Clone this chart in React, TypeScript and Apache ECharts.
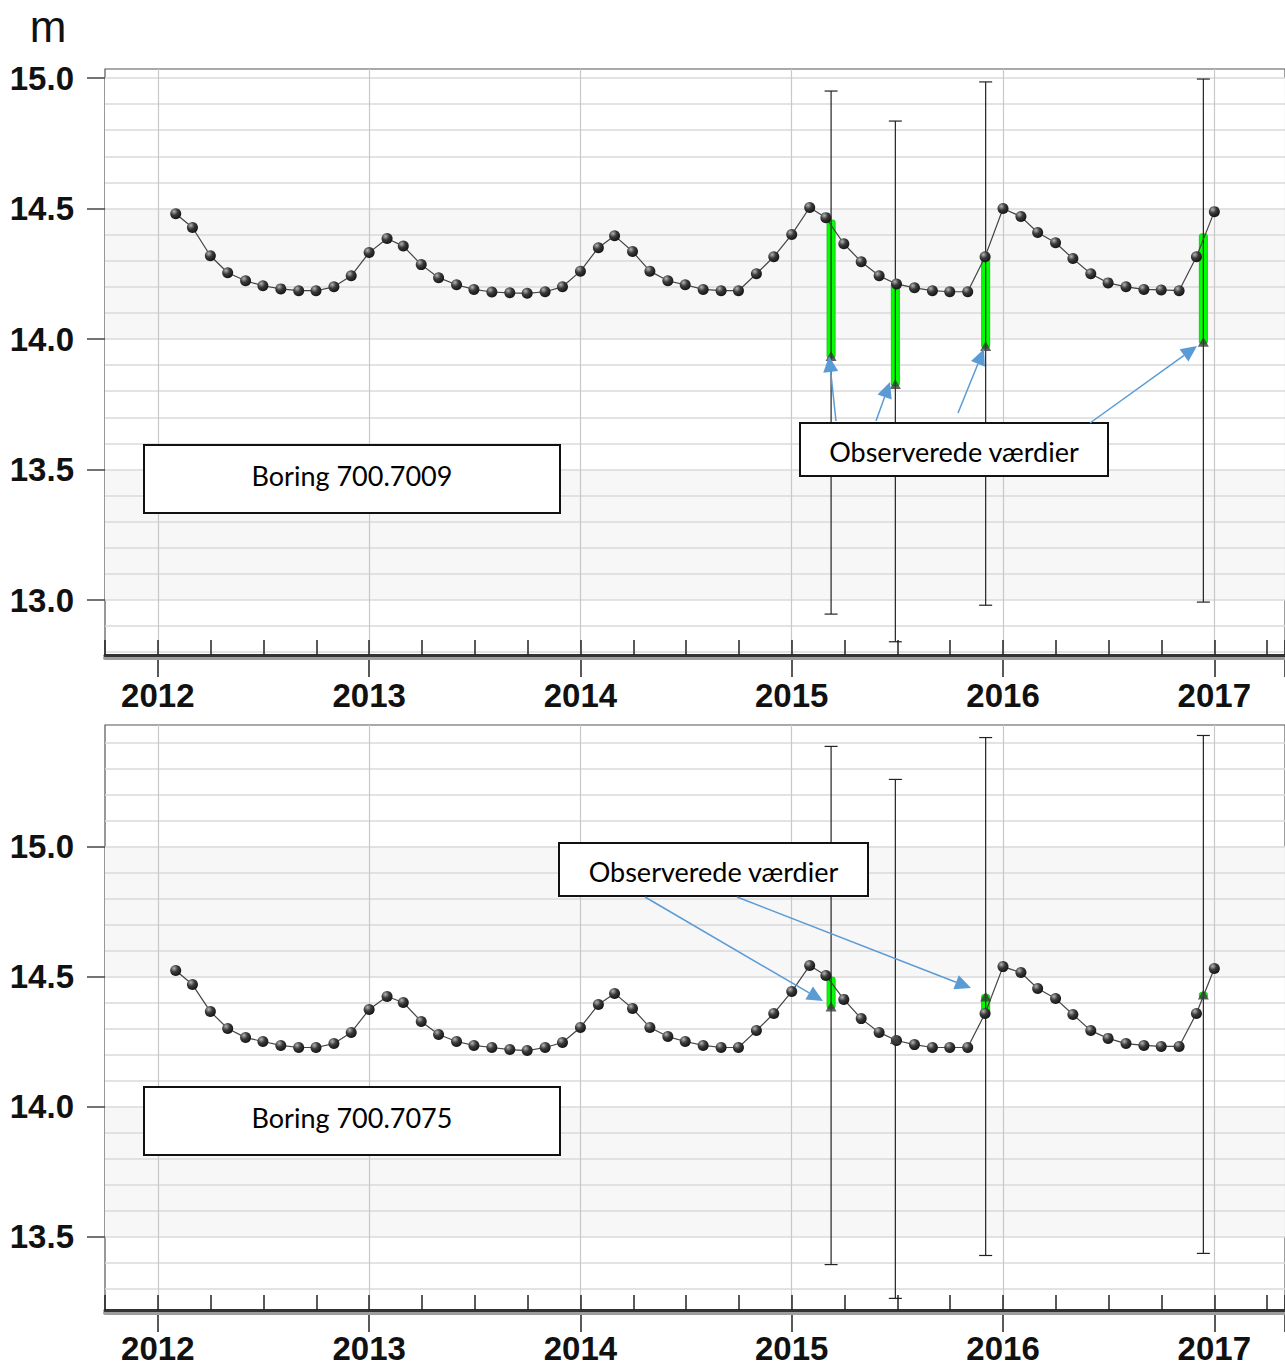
import React, { useEffect, useRef } from "react";
import * as echarts from "echarts";

// ---------- data ----------
const FIRST_MONTH = "2012-02"; // monthly values start here
const TOP_LEVELS = [
  14.48, 14.427, 14.319, 14.254, 14.223, 14.204, 14.192, 14.185, 14.185, 14.2, 14.242, 14.331,
  14.385, 14.356, 14.285, 14.235, 14.208, 14.19, 14.18, 14.177, 14.175, 14.181, 14.2, 14.26,
  14.35, 14.396, 14.335, 14.26, 14.223, 14.208, 14.19, 14.185, 14.185, 14.25, 14.315, 14.4,
  14.504, 14.465, 14.365, 14.296, 14.242, 14.211, 14.196, 14.185, 14.181, 14.181, 14.315, 14.5,
  14.469, 14.408, 14.369, 14.308, 14.25, 14.215, 14.2, 14.19, 14.188, 14.185, 14.315, 14.488,
];
const BOTTOM_LEVELS = [
  14.523, 14.469, 14.365, 14.3, 14.265, 14.25, 14.235, 14.227, 14.227, 14.242, 14.285, 14.373,
  14.423, 14.4, 14.327, 14.277, 14.25, 14.235, 14.227, 14.219, 14.215, 14.227, 14.246, 14.304,
  14.392, 14.435, 14.377, 14.304, 14.269, 14.25, 14.235, 14.227, 14.227, 14.292, 14.358, 14.442,
  14.542, 14.504, 14.412, 14.338, 14.285, 14.254, 14.238, 14.227, 14.227, 14.227, 14.358, 14.538,
  14.515, 14.454, 14.415, 14.354, 14.292, 14.262, 14.242, 14.235, 14.231, 14.231, 14.358, 14.531,
];
const OBS_DATES = ["2015-03-10", "2015-06-29", "2015-12-02", "2016-12-13"];
const TOP_OBS = [13.935, 13.828, 13.973, 13.989];
const TOP_MODEL_AT_OBS = [14.448, 14.207, 14.314, 14.395];
const TOP_ERR_LOW = [12.946, 12.84, 12.98, 12.992];
const TOP_ERR_HIGH = [14.95, 14.835, 14.985, 14.996];
const BOTTOM_OBS = [14.385, 14.26, 14.423, 14.431];
const BOTTOM_MODEL_AT_OBS = [14.49, 14.254, 14.358, 14.425];
const BOTTOM_ERR_LOW = [13.392, 13.262, 13.427, 13.435];
const BOTTOM_ERR_HIGH = [15.385, 15.258, 15.419, 15.427];
const TOP_Y_TICKS = [13.0, 13.5, 14.0, 14.5, 15.0];
const BOTTOM_Y_TICKS = [13.5, 14.0, 14.5, 15.0];
const YEAR_TICKS = [2012, 2013, 2014, 2015, 2016, 2017];
const UNIT = "m";
const TOP_TITLE = "Boring 700.7009";
const BOTTOM_TITLE = "Boring 700.7075";
const OBS_LABEL = "Observerede værdier";

// ---------- helpers ----------
const pad = (n: number) => (n < 10 ? "0" + n : "" + n);
function monthDates(n: number): string[] {
  const [y0, m0] = FIRST_MONTH.split("-").map(Number);
  const out: string[] = [];
  for (let i = 0; i < n; i++) {
    const idx = m0 - 1 + i;
    out.push(`${y0 + Math.floor(idx / 12)}-${pad((idx % 12) + 1)}-01`);
  }
  return out;
}
function toYear(d: string): number {
  const [y, m, dd] = d.split("-").map(Number);
  const s = Date.UTC(y, 0, 1);
  const e = Date.UTC(y + 1, 0, 1);
  return y + (Date.UTC(y, m - 1, dd) - s) / (e - s);
}

// ---------- layout ----------
const W = 1285;
const H = 1367;
const X_LEFT = 105;
const PX_PER_YEAR = 211.3;
const X_MIN = 2011.75;
const X_MAX = X_MIN + (W - X_LEFT) / PX_PER_YEAR;
const FONT = "'Liberation Sans', Arial, sans-serif";
const NOTE_FONT = "Lato, 'Open Sans', sans-serif";
const N_X = 5; // x axes per panel
const N_Y = 4; // y axes per panel
const N_G = 4; // grids per panel

type Panel = {
  levels: number[];
  obs: number[];
  model: number[];
  lo: number[];
  hi: number[];
  yTicks: number[];
  frameTop: number;
  axisY: number;
  refValue: number;
  refY: number;
  ppu: number;
  minorMin: number;
  minorMax: number;
  labelMargin: number;
};

const PANELS: Panel[] = [
  {
    levels: TOP_LEVELS, obs: TOP_OBS, model: TOP_MODEL_AT_OBS, lo: TOP_ERR_LOW, hi: TOP_ERR_HIGH,
    yTicks: TOP_Y_TICKS, frameTop: 69, axisY: 655, refValue: 15, refY: 78, ppu: 261,
    minorMin: 12.8, minorMax: 15.0, labelMargin: 24,
  },
  {
    levels: BOTTOM_LEVELS, obs: BOTTOM_OBS, model: BOTTOM_MODEL_AT_OBS, lo: BOTTOM_ERR_LOW, hi: BOTTOM_ERR_HIGH,
    yTicks: BOTTOM_Y_TICKS, frameTop: 725, axisY: 1310, refValue: 15, refY: 846.5, ppu: 260,
    minorMin: 13.3, minorMax: 15.4, labelMargin: 22,
  },
];

function buildPanel(p: Panel, k: number) {
  const g0 = k * N_G;
  const xi = k * N_X;
  const yi = k * N_Y;
  const yPix = (v: number) => p.refY + (p.refValue - v) * p.ppu;
  const dataMax = p.refValue + (p.refY - p.frameTop) / p.ppu;
  const dataMin = p.refValue - (p.axisY - p.refY) / p.ppu;
  const majMin = p.yTicks[0];
  const majMax = p.yTicks[p.yTicks.length - 1];
  const majInt = p.yTicks[1] - p.yTicks[0];
  const yearLeft = X_LEFT + (YEAR_TICKS[0] - X_MIN) * PX_PER_YEAR;
  const gridBase = { containLabel: false, outerBoundsMode: "none", right: 0 } as any;

  const grids = [
    { ...gridBase, left: X_LEFT, top: p.frameTop, height: p.axisY - p.frameTop, show: true, borderColor: "#555", borderWidth: 1.2, backgroundColor: "transparent", z: 0 },
    { ...gridBase, left: X_LEFT, top: yPix(p.minorMax), height: yPix(p.minorMin) - yPix(p.minorMax) },
    { ...gridBase, left: X_LEFT, top: yPix(majMax), height: yPix(majMin) - yPix(majMax) },
    { ...gridBase, left: yearLeft, top: p.frameTop, height: p.axisY - p.frameTop },
  ];

  const hidden = { show: false, type: "value" } as any;
  const xAxes = [
    {
      type: "value", gridIndex: g0, position: "bottom", min: X_MIN, max: X_MAX, interval: 0.25, z: 4,
      axisLine: { show: true, onZero: false, lineStyle: { color: "#333", width: 3 } },
      axisTick: { show: true, inside: true, length: 15, lineStyle: { color: "#222", width: 1.5 } },
      axisLabel: { show: false },
      splitLine: { show: false },
    },
    {
      // drop shadow under the bottom axis line
      type: "value", gridIndex: g0, position: "bottom", offset: 3, min: X_MIN, max: X_MAX, z: 3,
      axisLine: { show: true, onZero: false, lineStyle: { color: "#9d9d9d", width: 4 } },
      axisTick: { show: false }, axisLabel: { show: false }, splitLine: { show: false },
    },
    { ...hidden, gridIndex: g0 + 1, min: X_MIN, max: X_MAX },
    { ...hidden, gridIndex: g0 + 2, min: X_MIN, max: X_MAX },
    {
      type: "value", gridIndex: g0 + 3, position: "bottom", min: YEAR_TICKS[0], max: X_MAX, interval: 1, z: 1,
      axisLine: { show: false },
      axisTick: { show: true, length: 22, lineStyle: { color: "#222", width: 1.5 } },
      axisLabel: {
        show: true, margin: p.labelMargin, fontSize: 33, fontWeight: "bold", fontFamily: FONT, color: "#111",
        formatter: (v: number) => (YEAR_TICKS.indexOf(Math.round(v)) >= 0 && Math.abs(v - Math.round(v)) < 1e-6 ? String(Math.round(v)) : ""),
      },
      splitLine: { show: true, lineStyle: { color: "#c8c8c8", width: 1.2 } },
    },
  ];
  const yAxes = [
    { ...hidden, gridIndex: g0, min: dataMin, max: dataMax },
    {
      type: "value", gridIndex: g0 + 1, min: p.minorMin, max: p.minorMax, interval: 0.1, z: 1,
      axisLine: { show: false }, axisTick: { show: false }, axisLabel: { show: false },
      splitLine: { show: true, lineStyle: { color: "#dadada", width: 1.5 } },
    },
    {
      type: "value", gridIndex: g0 + 2, min: majMin, max: majMax, interval: majInt, z: 0,
      axisLine: { show: false },
      axisTick: { show: true, length: 18, lineStyle: { color: "#444", width: 1.5 } },
      axisLabel: { show: true, margin: 31, fontSize: 33, fontWeight: "bold", fontFamily: FONT, color: "#111", formatter: (v: number) => v.toFixed(1) },
      splitLine: { show: false },
      splitArea: { show: true, areaStyle: { color: ["#f7f7f7", "#ffffff"] } },
    },
    { ...hidden, gridIndex: g0 + 3, min: 0, max: 1 },
  ];

  const dates = monthDates(p.levels.length);
  const lineData = p.levels.map((v, i) => [toYear(dates[i]), v]);
  const obsX = OBS_DATES.map(toYear);
  const greenData = obsX.map((x, i) => [x, p.model[i], p.obs[i]]);
  const errData = obsX.map((x, i) => [x, p.lo[i], p.hi[i]]);
  const obsData = obsX.map((x, i) => [x, p.obs[i]]);

  const ballColor = new echarts.graphic.RadialGradient(0.35, 0.3, 0.75, [
    { offset: 0, color: "#b5b5b5" },
    { offset: 0.45, color: "#3a3a3a" },
    { offset: 1, color: "#111" },
  ]);

  const series = [
    {
      type: "custom", xAxisIndex: xi, yAxisIndex: yi, z: 3, silent: true,
      data: greenData,
      renderItem: (params: any, api: any) => {
        const x = api.value(0);
        const a = api.coord([x, api.value(1)]);
        const b = api.coord([x, api.value(2)]);
        const top = Math.min(a[1], b[1]) - 2;
        const h = Math.abs(a[1] - b[1]) + 4;
        return { type: "rect", shape: { x: a[0] - 4, y: top, width: 8, height: h, r: 2 }, style: { fill: "#00ff00", stroke: "#22c322", lineWidth: 1 } };
      },
    },
    {
      type: "custom", xAxisIndex: xi, yAxisIndex: yi, z: 4, silent: true,
      data: errData,
      renderItem: (params: any, api: any) => {
        const x = api.value(0);
        const lo = api.coord([x, api.value(1)]);
        const hi = api.coord([x, api.value(2)]);
        const st = { stroke: "#222", lineWidth: 1.2 };
        return {
          type: "group",
          children: [
            { type: "line", shape: { x1: hi[0], y1: hi[1], x2: lo[0], y2: lo[1] }, style: st },
            { type: "line", shape: { x1: hi[0] - 6.5, y1: hi[1], x2: hi[0] + 6.5, y2: hi[1] }, style: st },
            { type: "line", shape: { x1: lo[0] - 6.5, y1: lo[1], x2: lo[0] + 6.5, y2: lo[1] }, style: st },
          ],
        };
      },
    },
    {
      type: "line", xAxisIndex: xi, yAxisIndex: yi, z: 5, data: lineData,
      symbol: "circle", symbolSize: 11, showSymbol: true, silent: true,
      lineStyle: { color: "#444", width: 1.2 },
      itemStyle: { color: ballColor, borderWidth: 0 },
    },
    {
      type: "scatter", xAxisIndex: xi, yAxisIndex: yi, z: 6, data: obsData, silent: true,
      symbol: "triangle", symbolSize: [11, 10],
      itemStyle: { color: "#3a3a3a" },
    },
  ];
  return { grids, xAxes, yAxes, series };
}

function arrow(x1: number, y1: number, x2: number, y2: number) {
  const dx = x2 - x1;
  const dy = y2 - y1;
  const len = Math.sqrt(dx * dx + dy * dy);
  const ux = dx / len;
  const uy = dy / len;
  const hl = 16;
  const hw = 7.5;
  const bx = x2 - ux * hl;
  const by = y2 - uy * hl;
  const col = "#5b9bd5";
  return [
    { type: "line", z: 100, shape: { x1, y1, x2: bx, y2: by }, style: { stroke: col, lineWidth: 1.5 } },
    { type: "polygon", z: 100, shape: { points: [[x2, y2], [bx - uy * hw, by + ux * hw], [bx + uy * hw, by - ux * hw]] }, style: { fill: col } },
  ];
}

function box(x: number, y: number, w: number, h: number, text: string, dy: number) {
  return [
    { type: "rect", z: 100, shape: { x, y, width: w, height: h }, style: { fill: "#fff", stroke: "#111", lineWidth: 2 } },
    { type: "text", z: 101, x: x + w / 2, y: y + h / 2 + dy, style: { text, align: "center", verticalAlign: "middle", fontSize: 27, fontFamily: NOTE_FONT, fill: "#000" } },
  ];
}

export default function App() {
  const ref = useRef<HTMLDivElement>(null);
  useEffect(() => {
    if (!ref.current) return;
    const chart = echarts.init(ref.current, null, { renderer: "svg" });
    const parts = PANELS.map((p, k) => buildPanel(p, k));
    const graphic: any[] = [
      { type: "text", z: 100, x: 48, y: 26, style: { text: UNIT, align: "center", verticalAlign: "middle", fontSize: 44, fontFamily: FONT, fill: "#111" } },
      ...box(144, 445, 416, 68, TOP_TITLE, -4),
      ...box(800, 423, 308, 53, OBS_LABEL, 2),
      ...box(144, 1087, 416, 68, BOTTOM_TITLE, -4),
      ...box(559, 843, 309, 53, OBS_LABEL, 2),
      ...arrow(836, 421, 829, 356),
      ...arrow(876, 421, 890, 382),
      ...arrow(958, 413, 984, 349),
      ...arrow(1090, 423, 1197, 346),
      ...arrow(645, 897, 823, 1001),
      ...arrow(737, 897, 971, 988),
    ];
    chart.setOption({
      animation: false,
      backgroundColor: "#ffffff",
      textStyle: { fontFamily: FONT },
      grid: parts.flatMap((p) => p.grids),
      xAxis: parts.flatMap((p) => p.xAxes),
      yAxis: parts.flatMap((p) => p.yAxes),
      series: parts.flatMap((p) => p.series),
      graphic,
    });
    return () => chart.dispose();
  }, []);
  return <div ref={ref} style={{ position: "absolute", left: 0, top: 0, width: W, height: H }} />;
}
